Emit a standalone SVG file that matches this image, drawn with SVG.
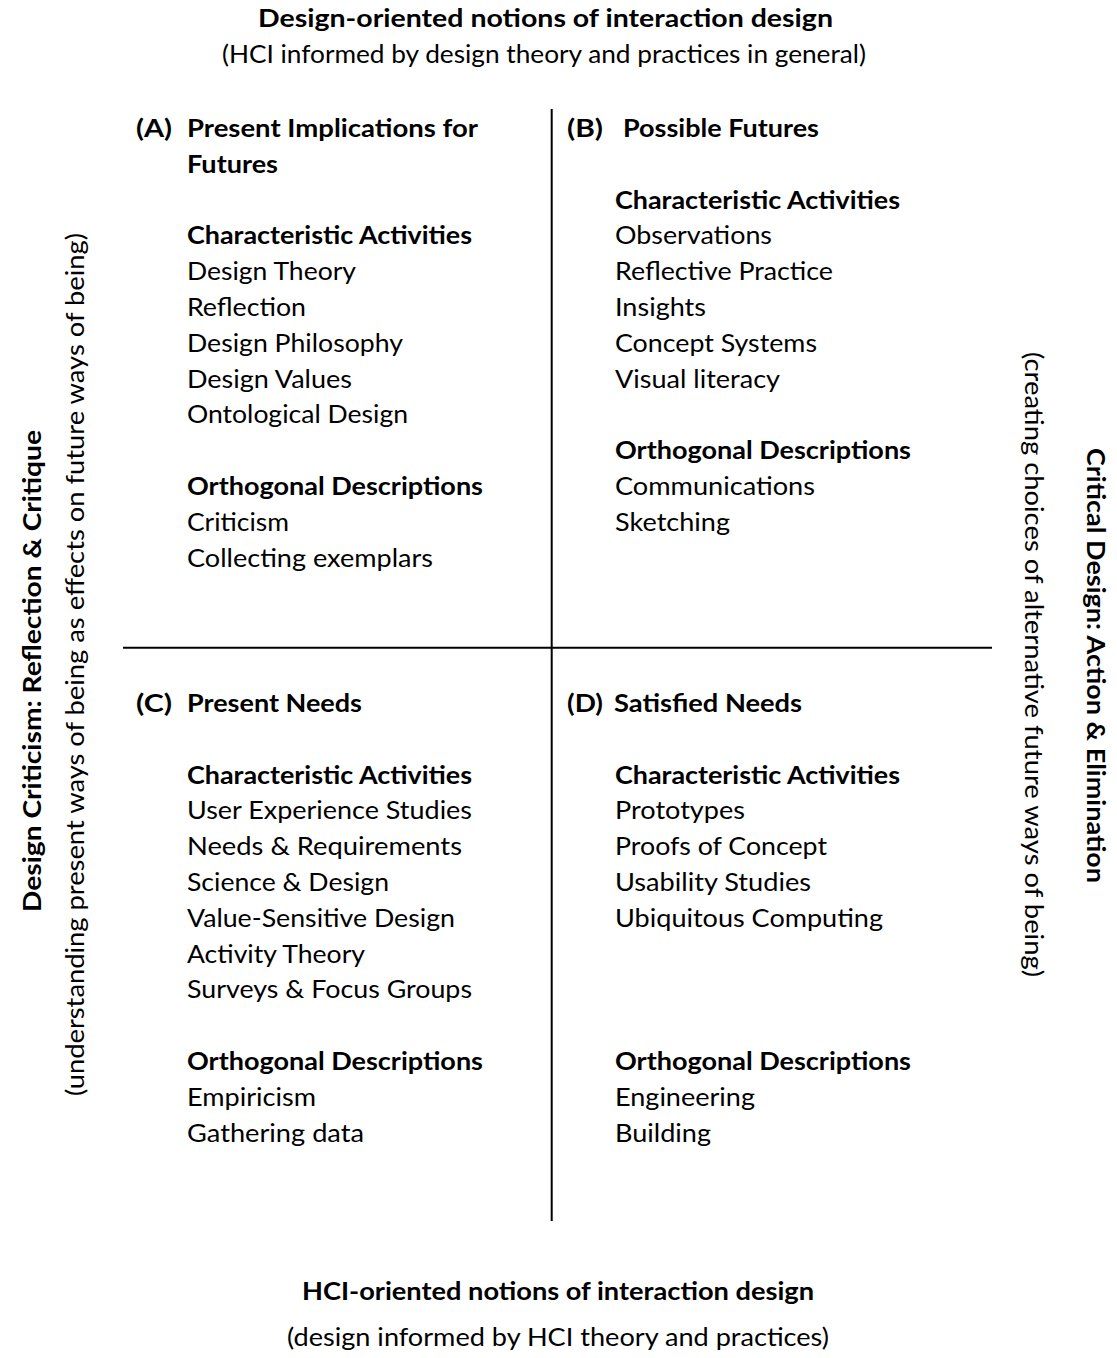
<svg xmlns="http://www.w3.org/2000/svg" width="1117" height="1358" viewBox="0 0 1117 1358">
  <style>
    text { font-family: Lato, "Open Sans", "Liberation Sans", sans-serif; font-size: 24.5px; fill: #000; }
    .b { font-weight: bold; }
    .c { text-anchor: middle; }
    .axis { stroke: #000; stroke-width: 2; fill: none; }
  </style>

  <!-- axis titles -->
  <g id="axis-top">
    <text class="b c" x="545.5" y="27" textLength="575" lengthAdjust="spacingAndGlyphs">Design-oriented notions of interaction design</text>
    <text class="c" x="544" y="63" textLength="644" lengthAdjust="spacingAndGlyphs">(HCI informed by design theory and practices in general)</text>
  </g>
  <g id="axis-bottom">
    <text class="b c" x="558" y="1300" textLength="512" lengthAdjust="spacingAndGlyphs">HCI-oriented notions of interaction design</text>
    <text class="c" x="558" y="1346" textLength="542" lengthAdjust="spacingAndGlyphs">(design informed by HCI theory and practices)</text>
  </g>
  <g id="axis-left">
    <text class="b c" transform="translate(41,671) rotate(-90)" textLength="482" lengthAdjust="spacingAndGlyphs">Design Criticism: Reflection &amp; Critique</text>
    <text class="c" transform="translate(84,664.5) rotate(-90)" textLength="863" lengthAdjust="spacingAndGlyphs">(understanding present ways of being as effects on future ways of being)</text>
  </g>
  <g id="axis-right">
    <text class="b c" transform="translate(1087,665.5) rotate(90)" textLength="435" lengthAdjust="spacingAndGlyphs">Critical Design: Action &amp; Elimination</text>
    <text class="c" transform="translate(1025,664.5) rotate(90)" textLength="625" lengthAdjust="spacingAndGlyphs">(creating choices of alternative future ways of being)</text>
  </g>

  <!-- quadrant dividers -->
  <g id="connectors">
    <line class="axis" x1="551.7" y1="109" x2="551.7" y2="1221"/>
    <line class="axis" x1="123" y1="647.7" x2="992" y2="647.7"/>
  </g>

  <!-- quadrant A -->
  <g id="quadrant-a">
    <text class="b" x="136" y="137" textLength="36" lengthAdjust="spacingAndGlyphs">(A)</text>
    <text class="b" x="187" y="137" textLength="291" lengthAdjust="spacingAndGlyphs">Present Implications for</text>
    <text class="b" x="187" y="172.8" textLength="91" lengthAdjust="spacingAndGlyphs">Futures</text>
    <text class="b" x="187" y="244.4" textLength="285" lengthAdjust="spacingAndGlyphs">Characteristic Activities</text>
    <text x="187" y="280.2" textLength="169" lengthAdjust="spacingAndGlyphs">Design Theory</text>
    <text x="187" y="316" textLength="119" lengthAdjust="spacingAndGlyphs">Reflection</text>
    <text x="187" y="351.8" textLength="216" lengthAdjust="spacingAndGlyphs">Design Philosophy</text>
    <text x="187" y="387.6" textLength="165" lengthAdjust="spacingAndGlyphs">Design Values</text>
    <text x="187" y="423.4" textLength="221" lengthAdjust="spacingAndGlyphs">Ontological Design</text>
    <text class="b" x="187" y="495" textLength="296" lengthAdjust="spacingAndGlyphs">Orthogonal Descriptions</text>
    <text x="187" y="530.8" textLength="102" lengthAdjust="spacingAndGlyphs">Criticism</text>
    <text x="187" y="566.6" textLength="246" lengthAdjust="spacingAndGlyphs">Collecting exemplars</text>
  </g>

  <!-- quadrant B -->
  <g id="quadrant-b">
    <text class="b" x="567" y="137" textLength="36" lengthAdjust="spacingAndGlyphs">(B)</text>
    <text class="b" x="623" y="137" textLength="196" lengthAdjust="spacingAndGlyphs">Possible Futures</text>
    <text class="b" x="615" y="208.6" textLength="285" lengthAdjust="spacingAndGlyphs">Characteristic Activities</text>
    <text x="615" y="244.4" textLength="157" lengthAdjust="spacingAndGlyphs">Observations</text>
    <text x="615" y="280.2" textLength="218" lengthAdjust="spacingAndGlyphs">Reflective Practice</text>
    <text x="615" y="316" textLength="91" lengthAdjust="spacingAndGlyphs">Insights</text>
    <text x="615" y="351.8" textLength="202" lengthAdjust="spacingAndGlyphs">Concept Systems</text>
    <text x="615" y="387.6" textLength="165" lengthAdjust="spacingAndGlyphs">Visual literacy</text>
    <text class="b" x="615" y="459.2" textLength="296" lengthAdjust="spacingAndGlyphs">Orthogonal Descriptions</text>
    <text x="615" y="495" textLength="200" lengthAdjust="spacingAndGlyphs">Communications</text>
    <text x="615" y="530.8" textLength="115" lengthAdjust="spacingAndGlyphs">Sketching</text>
  </g>

  <!-- quadrant C -->
  <g id="quadrant-c">
    <text class="b" x="136" y="712" textLength="36" lengthAdjust="spacingAndGlyphs">(C)</text>
    <text class="b" x="187" y="712" textLength="175" lengthAdjust="spacingAndGlyphs">Present Needs</text>
    <text class="b" x="187" y="783.6" textLength="285" lengthAdjust="spacingAndGlyphs">Characteristic Activities</text>
    <text x="187" y="819.4" textLength="285" lengthAdjust="spacingAndGlyphs">User Experience Studies</text>
    <text x="187" y="855.2" textLength="275" lengthAdjust="spacingAndGlyphs">Needs &amp; Requirements</text>
    <text x="187" y="891" textLength="202" lengthAdjust="spacingAndGlyphs">Science &amp; Design</text>
    <text x="187" y="926.8" textLength="268" lengthAdjust="spacingAndGlyphs">Value-Sensitive Design</text>
    <text x="187" y="962.6" textLength="178" lengthAdjust="spacingAndGlyphs">Activity Theory</text>
    <text x="187" y="998.4" textLength="285" lengthAdjust="spacingAndGlyphs">Surveys &amp; Focus Groups</text>
    <text class="b" x="187" y="1070" textLength="296" lengthAdjust="spacingAndGlyphs">Orthogonal Descriptions</text>
    <text x="187" y="1105.8" textLength="129" lengthAdjust="spacingAndGlyphs">Empiricism</text>
    <text x="187" y="1141.6" textLength="177" lengthAdjust="spacingAndGlyphs">Gathering data</text>
  </g>

  <!-- quadrant D -->
  <g id="quadrant-d">
    <text class="b" x="567" y="712" textLength="36" lengthAdjust="spacingAndGlyphs">(D)</text>
    <text class="b" x="614" y="712" textLength="188" lengthAdjust="spacingAndGlyphs">Satisfied Needs</text>
    <text class="b" x="615" y="783.6" textLength="285" lengthAdjust="spacingAndGlyphs">Characteristic Activities</text>
    <text x="615" y="819.4" textLength="130" lengthAdjust="spacingAndGlyphs">Prototypes</text>
    <text x="615" y="855.2" textLength="212" lengthAdjust="spacingAndGlyphs">Proofs of Concept</text>
    <text x="615" y="891" textLength="196" lengthAdjust="spacingAndGlyphs">Usability Studies</text>
    <text x="615" y="926.8" textLength="268" lengthAdjust="spacingAndGlyphs">Ubiquitous Computing</text>
    <text class="b" x="615" y="1070" textLength="296" lengthAdjust="spacingAndGlyphs">Orthogonal Descriptions</text>
    <text x="615" y="1105.8" textLength="140" lengthAdjust="spacingAndGlyphs">Engineering</text>
    <text x="615" y="1141.6" textLength="96" lengthAdjust="spacingAndGlyphs">Building</text>
  </g>
</svg>
